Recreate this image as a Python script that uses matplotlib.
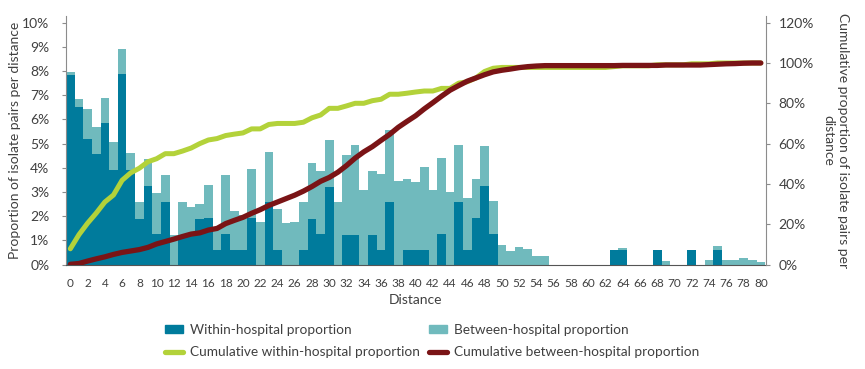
import matplotlib.pyplot as plt
import numpy as np
from matplotlib.lines import Line2D
from matplotlib.patches import Patch

# distance 0..80
distance = list(range(81))

within = [7.83, 6.52, 5.21, 4.55, 5.86, 3.90, 7.86, 3.90, 1.90, 3.23,
          1.26, 2.57, 0, 1.24, 1.20, 1.90, 1.93, 0.62, 1.26, 0.62,
          0.59, 1.93, 0, 2.57, 0.59, 0, 0, 0.59, 1.90, 1.26,
          3.21, 0, 1.24, 1.24, 0, 1.24, 0.62, 2.57, 0, 0.62,
          0.59, 0.62, 0, 1.26, 0, 2.57, 0.62, 1.94, 3.23, 1.26,
          0, 0, 0, 0, 0, 0, 0, 0, 0, 0,
          0, 0, 0, 0.62, 0.62, 0, 0, 0, 0.62, 0,
          0, 0, 0.62, 0, 0, 0.58, 0, 0, 0, 0,
          0]

between = [0.14, 0.31, 1.23, 1.13, 1.01, 1.15, 1.06, 0.70, 0.69, 1.13,
           1.68, 1.15, 1.20, 1.33, 1.16, 0.61, 1.37, 0.83, 2.44, 1.58,
           1.45, 2.04, 1.77, 2.09, 1.69, 1.70, 1.77, 1.98, 2.30, 2.62,
           1.92, 2.60, 3.28, 3.70, 3.08, 2.64, 3.12, 2.99, 3.46, 2.90,
           2.84, 3.41, 3.08, 3.14, 3.00, 2.37, 2.14, 1.59, 1.67, 1.37,
           0.80, 0.55, 0.73, 0.63, 0.34, 0.34, 0, 0, 0, 0,
           0, 0, 0, 0, 0.08, 0, 0, 0, 0, 0.14,
           0, 0, 0, 0, 0.18, 0.18, 0.18, 0.18, 0.25, 0.19,
           0.11]

cum_within = [7.8, 14.8, 20.5, 25.5, 31.0, 34.5, 41.8, 45.5, 47.8, 51.0,
              52.5, 55.0, 55.0, 56.3, 57.8, 60.0, 61.8, 62.5, 64.0, 64.7,
              65.3, 67.3, 67.3, 69.5, 70.0, 70.0, 70.0, 70.6, 72.8, 74.2,
              77.5, 77.5, 78.7, 80.0, 80.0, 81.3, 82.0, 84.5, 84.5, 85.0,
              85.6, 86.1, 86.1, 87.4, 87.4, 90.0, 90.7, 92.6, 95.8, 97.4,
              97.8, 97.8, 97.8, 97.8, 97.8, 97.8, 97.8, 97.8, 97.8, 97.8,
              97.8, 97.8, 97.8, 98.2, 98.6, 98.6, 98.6, 98.6, 99.1, 99.1,
              99.1, 99.1, 99.6, 99.6, 99.6, 100.0, 100.0, 100.0, 100.0, 100.0,
              100.0]

cum_between = [0.1, 0.5, 1.7, 2.8, 3.8, 5.0, 6.0, 6.7, 7.4, 8.5,
               10.2, 11.4, 12.6, 13.9, 15.1, 15.7, 17.1, 17.9, 20.3, 21.9,
               23.4, 25.4, 27.2, 29.3, 31.0, 32.7, 34.4, 36.4, 38.7, 41.3,
               43.2, 45.8, 49.1, 52.8, 55.9, 58.5, 61.6, 64.6, 68.1, 71.0,
               73.8, 77.2, 80.3, 83.5, 86.5, 88.8, 91.0, 92.6, 94.2, 95.6,
               96.4, 97.0, 97.7, 98.2, 98.5, 98.7, 98.7, 98.7, 98.7, 98.7,
               98.7, 98.7, 98.7, 98.7, 98.8, 98.8, 98.8, 98.8, 98.8, 99.0,
               99.0, 99.0, 99.0, 99.0, 99.2, 99.4, 99.6, 99.7, 99.9, 100.0,
               100.0]

dark = '#007b9c'
light = '#70babd'
green = '#b3d23a'
red = '#7a1416'
txt = '#404040'
axis_grey = '#8c8c8c'

plt.rcParams['font.family'] = ['Lato', 'DejaVu Sans']

fig = plt.figure(figsize=(8.65, 3.69), dpi=100)
ax = fig.add_axes([66 / 865, 1 - 264.5 / 369, 700 / 865, (264.5 - 16) / 369])

ax.bar(distance, within, width=1.0, color=dark, linewidth=0)
ax.bar(distance, between, width=1.0, bottom=within, color=light, linewidth=0)

ax.set_xlim(-0.5, 80.6)
ytop = 10 * (264.5 - 16) / (264.5 - 22.7)
ax.set_ylim(0, ytop)
ax.set_yticks(range(11))
ax.set_yticklabels([f'{i}%' for i in range(11)])
ax.set_xticks(range(0, 81, 2))
ax.tick_params(axis='x', length=0, pad=10, labelsize=8.5, labelcolor=txt)
ax.tick_params(axis='y', length=3, width=0.8, color=axis_grey, pad=9,
               labelsize=10, labelcolor=txt)
for s in ['top', 'right']:
    ax.spines[s].set_visible(False)
ax.spines['left'].set_color(axis_grey)
ax.spines['bottom'].set_color('#555555')
ax.set_xlabel('Distance', fontsize=10, color=txt, labelpad=3)
ax.set_ylabel('Proportion of isolate pairs per distance', fontsize=10,
              color=txt, labelpad=1)

ax2 = ax.twinx()
ax2.plot(distance, cum_within, color=green, lw=3.6, solid_capstyle='round',
         solid_joinstyle='round')
ax2.plot(distance, cum_between, color=red, lw=3.8, solid_capstyle='round',
         solid_joinstyle='round')
ax2.set_ylim(0, ytop * 12)
ax2.set_yticks(range(0, 121, 20))
ax2.set_yticklabels([f'{i}%' for i in range(0, 121, 20)])
ax2.tick_params(axis='y', length=3, width=0.8, color=axis_grey, pad=6,
                labelsize=10, labelcolor=txt)
for s in ['top', 'left', 'bottom']:
    ax2.spines[s].set_visible(False)
ax2.spines['right'].set_color(axis_grey)
ax2.set_ylabel('Cumulative proportion of isolate pairs per\ndistance',
               rotation=270, fontsize=10, color=txt, labelpad=25,
               linespacing=1.25)

leg_kw = dict(frameon=False, loc='upper left', borderpad=0, borderaxespad=0,
              fontsize=9.8, handlelength=1.35, handleheight=0.45,
              handletextpad=0.45, labelspacing=0.75, labelcolor=txt)
leg1 = fig.legend([Patch(color=dark),
                   Line2D([], [], color=green, lw=3.8, solid_capstyle='round')],
                  ['Within-hospital proportion', 'Cumulative within-hospital proportion'],
                  bbox_to_anchor=(165 / 865, 1 - 324 / 369), **leg_kw)
leg2 = fig.legend([Patch(color=light),
                   Line2D([], [], color=red, lw=3.8, solid_capstyle='round')],
                  ['Between-hospital proportion', 'Cumulative between-hospital proportion'],
                  bbox_to_anchor=(429 / 865, 1 - 324 / 369), **leg_kw)

fig.savefig('out.png', dpi=100)
